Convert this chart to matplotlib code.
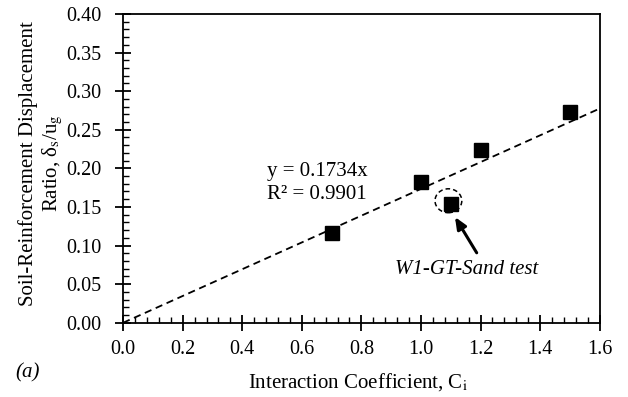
import matplotlib.pyplot as plt
from matplotlib.patches import Ellipse
from matplotlib.ticker import MultipleLocator
import numpy as np

plt.rcParams['font.family'] = ['Liberation Serif', 'DejaVu Serif']
plt.rcParams['mathtext.fontset'] = 'stix'

# data
ci = [0.7, 1.0, 1.1, 1.2, 1.5]
ratio = [0.1165, 0.1825, 0.154, 0.224, 0.273]
slope = 0.1734
r2 = 0.9901
fit_range = [0.0, 1.6]
highlight_x, highlight_y = 1.092, 0.158

fs = 15

fig = plt.figure(figsize=(6.28, 3.97), dpi=100)
ax = fig.add_axes([0.196, 0.187, 0.759, 0.778])

xfit = np.array(fit_range)
ax.plot(xfit, slope * xfit, color='black', linestyle=(0, (4, 2.6)), linewidth=1.3)
ax.plot(ci, ratio, linestyle='none', marker='s', markersize=9.5, color='black')

# dashed circle around the W1-GT-Sand point
circ = Ellipse((highlight_x, highlight_y), width=0.09, height=0.031, fill=False,
               edgecolor='black', linestyle=(0, (3, 2)), linewidth=1.1)
ax.add_patch(circ)

ax.annotate('', xy=(1.114, 0.137), xytext=(1.187, 0.0906),
            arrowprops=dict(arrowstyle='-|>,head_length=0.7,head_width=0.3',
                            color='black', lw=2.2, shrinkA=0, shrinkB=0))
ax.text(1.154, 0.0634, 'W1-GT-Sand test', ha='center', va='baseline', fontsize=fs, style='italic')

ax.text(0.483, 0.190, 'y = %.4fx' % slope, fontsize=fs, ha='left', va='baseline')
ax.text(0.483, 0.1605, 'R² = %.4f' % r2, fontsize=fs, ha='left', va='baseline')

ax.set_xlim(0, 1.6)
ax.set_ylim(0, 0.40)
ax.xaxis.set_major_locator(MultipleLocator(0.2))
ax.xaxis.set_minor_locator(MultipleLocator(0.04))
ax.yaxis.set_major_locator(MultipleLocator(0.05))
ax.yaxis.set_minor_locator(MultipleLocator(0.01))
ax.xaxis.set_major_formatter(plt.FormatStrFormatter('%.1f'))
ax.yaxis.set_major_formatter(plt.FormatStrFormatter('%.2f'))
ax.tick_params(which='major', direction='inout', length=11, width=1.3, labelsize=14.5)
ax.tick_params(axis='y', which='major', pad=10)
ax.tick_params(axis='x', which='major', pad=7)
ax.tick_params(which='minor', direction='in', length=4, width=1)
for s in ax.spines.values():
    s.set_linewidth(1.3)

fig.text(0.570, 0.025, 'Interaction Coefficient, C$_\\mathrm{i}$', fontsize=fs,
         ha='center', va='baseline')
fig.text(0.066, 0.588, 'Soil-Reinforcement Displacement\nRatio, δ$_\\mathrm{s}$/u$_\\mathrm{g}$',
         fontsize=fs, rotation=90, ha='center', va='center', multialignment='center',
         linespacing=1.15)

fig.text(0.024, 0.048, '(a)', fontsize=fs, style='italic', va='baseline')

fig.savefig('out.png', dpi=100)
